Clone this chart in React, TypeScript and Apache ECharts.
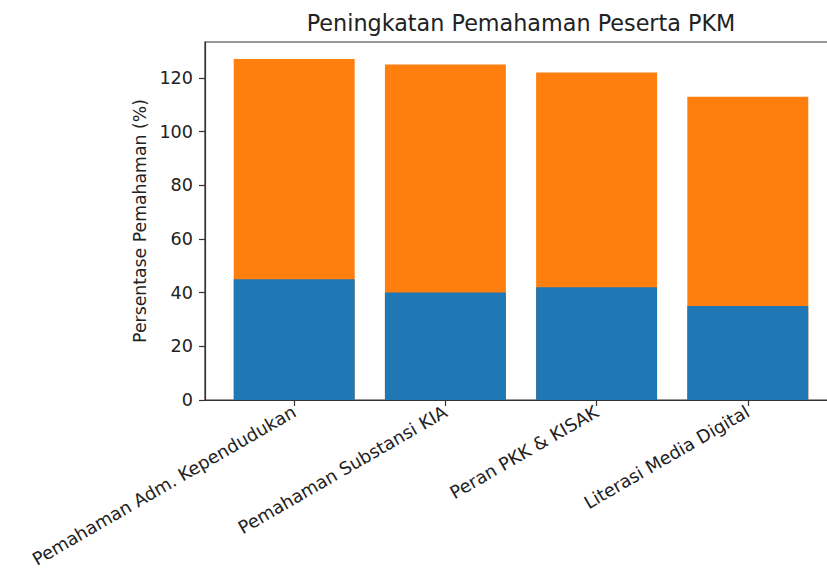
import React, { useEffect, useRef } from "react";
import * as echarts from "echarts";

const categories = [
  "Pemahaman Adm. Kependudukan",
  "Pemahaman Substansi KIA",
  "Peran PKK & KISAK",
  "Literasi Media Digital",
];
const sebelum = [45, 40, 42, 35];
const peningkatan = [82, 85, 80, 78];
const yTicks = [0, 20, 40, 60, 80, 100, 120];
const titleText = "Peningkatan Pemahaman Peserta PKM";
const yLabel = "Persentase Pemahaman (%)";

const FONT = "DejaVu Sans";
const CHART_W = 840;
const CHART_H = 569;

export default function App() {
  const ref = useRef<HTMLDivElement>(null);
  useEffect(() => {
    if (!ref.current) return;
    const chart = echarts.init(ref.current, undefined, { renderer: "svg" });
    const totals = sebelum.map((v, i) => v + peningkatan[i]);
    const yMax = Math.max(...totals) * 1.05;
    const xMin = -0.4 - 0.05 * 3.8;
    const xMax = categories.length - 1 + 0.4 + 0.05 * 3.8;
    const gridLeft = 205;
    const gridRight = CHART_W - 837;
    const gridWidth = CHART_W - gridLeft - gridRight;
    const unit = gridWidth / (xMax - xMin);
    const idx = categories.map((_, i) => i);
    chart.setOption({
      animation: false,
      backgroundColor: "#ffffff",
      graphic: [
        {
          type: "text",
          x: 521,
          y: 23,
          style: {
            text: titleText,
            fontFamily: FONT,
            fontSize: 22.3,
            fill: "#222",
            textAlign: "center",
            textVerticalAlign: "middle",
          },
        },
      ],
      grid: {
        left: gridLeft,
        right: gridRight,
        top: 42,
        bottom: 169,
        outerBoundsMode: "none",
        containLabel: false,
        show: true,
        borderColor: "#333",
        borderWidth: 1.2,
      },
      xAxis: {
        type: "value",
        min: xMin,
        max: xMax,
        splitLine: { show: false },
        axisLine: { show: true, onZero: false, lineStyle: { color: "#333", width: 1.2 } },
        axisTick: {
          show: true,
          length: 6,
          customValues: idx,
          lineStyle: { color: "#333", width: 1.2 },
        },
        axisLabel: {
          customValues: idx,
          rotate: 30,
          margin: 10,
          fontFamily: FONT,
          fontSize: 17.8,
          color: "#222",
          formatter: (v: number) => categories[Math.round(v)] ?? "",
        },
      },
      yAxis: {
        type: "value",
        min: 0,
        max: yMax,
        name: yLabel,
        nameLocation: "middle",
        nameGap: 54,
        nameTextStyle: { fontFamily: FONT, fontSize: 17.3, color: "#222" },
        splitLine: { show: false },
        axisLine: { show: true, onZero: false, lineStyle: { color: "#333", width: 1.2 } },
        axisTick: {
          show: true,
          length: 6,
          customValues: yTicks,
          lineStyle: { color: "#333", width: 1.2 },
        },
        axisLabel: {
          customValues: yTicks,
          margin: 12,
          fontFamily: FONT,
          fontSize: 17.6,
          color: "#222",
        },
      },
      series: [
        {
          name: "Sesudah",
          type: "bar",
          barWidth: 0.8 * unit,
          barGap: "-100%",
          itemStyle: { color: "#ff7f0e" },
          data: totals.map((v, i) => [i, v]),
          z: 2,
        },
        {
          name: "Sebelum",
          type: "bar",
          barWidth: 0.8 * unit,
          barGap: "-100%",
          itemStyle: { color: "#1f77b4" },
          data: sebelum.map((v, i) => [i, v]),
          z: 3,
        },
      ],
    });
    return () => chart.dispose();
  }, []);
  return (
    <div
      style={{
        position: "fixed",
        left: 0,
        top: 0,
        width: 827,
        height: CHART_H,
        overflow: "hidden",
        background: "#fff",
      }}
    >
      <div ref={ref} style={{ width: CHART_W, height: CHART_H }} />
    </div>
  );
}
